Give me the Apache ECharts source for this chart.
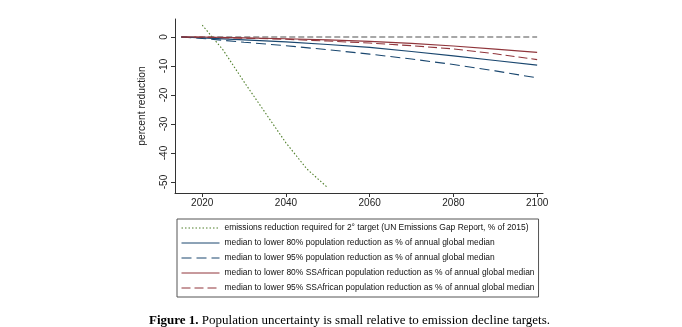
<!DOCTYPE html>
<html><head><meta charset="utf-8">
<script src="https://cdn.jsdelivr.net/npm/echarts@6/dist/echarts.min.js"></script>
<style>html,body{margin:0;padding:0;background:#fff}#c{width:682px;height:327px}</style>
</head><body><div id="c"></div>
<script>
const emisYears = [2020, 2025, 2030, 2035, 2040, 2045, 2050];
const emisVals = [4.1, -4.5, -15.5, -26, -36.5, -45.5, -52];
const popYears = [2015, 2020, 2030, 2040, 2050, 2060, 2070, 2080, 2090, 2100];
const blue80 = [0, -0.3, -1.0, -1.7, -2.6, -3.6, -5.0, -6.5, -8.1, -9.7];
const blue95 = [0, -0.5, -1.8, -3.0, -4.4, -5.9, -7.6, -9.5, -11.7, -14.1];
const red80 = [0, 0, -0.3, -0.6, -1.0, -1.5, -2.2, -3.1, -4.2, -5.3];
const red95 = [0, -0.1, -0.4, -0.8, -1.4, -2.1, -3.0, -4.1, -5.8, -7.8];
const zeroYears = [2015, 2100];
const zeroVals = [0, 0];
const xTicks = [2020, 2040, 2060, 2080, 2100];
const yTicks = [0, -10, -20, -30, -40, -50];
const names = [
  'emissions reduction required for 2° target (UN Emissions Gap Report, % of 2015)',
  'median to lower 80% population reduction as % of annual global median',
  'median to lower 95% population reduction as % of annual global median',
  'median to lower 80% SSAfrican population reduction as % of annual global median',
  'median to lower 95% SSAfrican population reduction as % of annual global median'
];
const zip = (xs, ys) => xs.map((x, i) => [x, ys[i]]);
const FONT = 'Liberation Sans, Arial, sans-serif';
const SERIF = 'Liberation Serif, Times New Roman, serif';
const chart = echarts.init(document.getElementById('c'), null, {renderer: 'canvas'});
const mk = (name, xs, ys, color, type, z, w) => ({
  name, type: 'line', data: zip(xs, ys), symbol: 'none', showSymbol: false,
  lineStyle: {color, width: w || 1.1, type}, itemStyle: {color}, z: z || 2, animation: false
});
chart.setOption({
  animation: false,
  grid: {left: 175, right: 139, top: 19, bottom: 134, containLabel: false},
  xAxis: {
    type: 'value', min: 2013.5, max: 2101.4,
    axisLine: {show: true, onZero: false, lineStyle: {color: '#333', width: 1}},
    axisTick: {show: true, length: 4, customValues: xTicks, lineStyle: {color: '#333'}},
    axisLabel: {customValues: xTicks, formatter: v => String(v), color: '#222', fontSize: 10, fontFamily: FONT, margin: 5},
    splitLine: {show: false}
  },
  yAxis: {
    type: 'value', min: -53.8, max: 6.2,
    name: 'percent reduction', nameLocation: 'middle', nameRotate: 90, nameGap: 28,
    nameTextStyle: {color: '#222', fontSize: 10.3, fontFamily: FONT},
    axisLine: {show: true, onZero: false, lineStyle: {color: '#333', width: 1}},
    axisTick: {show: true, length: 4, customValues: yTicks, lineStyle: {color: '#333'}},
    axisLabel: {customValues: yTicks, formatter: v => String(v), rotate: 90, color: '#222', fontSize: 10, fontFamily: FONT, margin: 6},
    splitLine: {show: false}
  },
  legend: {
    left: 177, top: 219, orient: 'vertical', data: names,
    itemWidth: 38, itemHeight: 10, itemGap: 5, itemTextGap: 8,
    padding: [4, 4, 4, 4], borderColor: '#555', borderWidth: 1,
    itemStyle: {opacity: 0, borderWidth: 0},
    lineStyle: {width: 1},
    textStyle: {fontSize: 8.45, fontFamily: FONT, color: '#111', lineHeight: 10},
    selectedMode: false
  },
  title: {
    left: 144, top: 309,
    text: '{b|Figure 1.} Population uncertainty is small relative to emission decline targets.',
    textStyle: {
      fontSize: 13, fontFamily: SERIF, fontWeight: 'normal', color: '#000',
      rich: {b: {fontSize: 13, fontFamily: SERIF, fontWeight: 'bold', color: '#000'}}
    }
  },
  series: [
    mk('zero', zeroYears, zeroVals, '#8a8a8a', [6, 3], 1, 1.3),
    mk(names[0], emisYears, emisVals, '#4f7f2a', [1.5, 2]),
    mk(names[1], popYears, blue80, '#1a476f', 'solid'),
    mk(names[2], popYears, blue95, '#1a476f', [10, 5]),
    mk(names[3], popYears, red80, '#90353b', 'solid'),
    mk(names[4], popYears, red95, '#90353b', [9, 4])
  ]
});
</script></body></html>
